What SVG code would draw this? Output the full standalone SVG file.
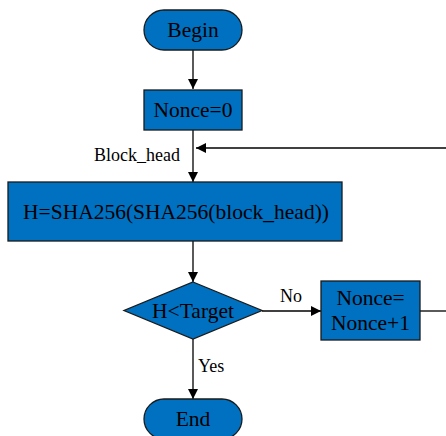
<svg xmlns="http://www.w3.org/2000/svg" width="446" height="436" viewBox="0 0 446 436">
  <style>
    .box { fill: #0070C0; stroke: #1a1a1a; stroke-width: 1.3; }
    .t { font-family: "Liberation Serif", "Times New Roman", serif; font-size: 21.5px; fill: #000; text-anchor: middle; }
    .lbl { font-family: "Liberation Serif", "Times New Roman", serif; font-size: 18px; fill: #000; }
    .ln { stroke: #000; stroke-width: 1.3; fill: none; }
  </style>
  <defs>
    <marker id="arr" viewBox="0 0 10 10" refX="10" refY="5" markerWidth="10" markerHeight="10" markerUnits="userSpaceOnUse" orient="auto">
      <path d="M0,0 L10,5 L0,10 Z" fill="#000"/>
    </marker>
  </defs>
  <rect width="446" height="436" fill="#fff"/>

  <g id="connectors">
    <line class="ln" x1="193" y1="50" x2="193" y2="89" marker-end="url(#arr)"/>
    <line class="ln" x1="193" y1="130" x2="193" y2="182" marker-end="url(#arr)"/>
    <line class="ln" x1="446" y1="148" x2="196" y2="148" marker-end="url(#arr)"/>
    <line class="ln" x1="193" y1="241" x2="193" y2="282" marker-end="url(#arr)"/>
    <line class="ln" x1="262" y1="311" x2="321" y2="311" marker-end="url(#arr)"/>
    <line class="ln" x1="420" y1="311" x2="446" y2="311"/>
    <line class="ln" x1="193" y1="339" x2="193" y2="399" marker-end="url(#arr)"/>
    <text class="lbl" x="94" y="161">Block_head</text>
    <text class="lbl" x="280" y="302">No</text>
    <text class="lbl" x="198" y="372">Yes</text>
  </g>

  <g id="begin">
    <rect class="box" x="144" y="10" width="98" height="40" rx="20"/>
    <text class="t" x="193" y="37">Begin</text>
  </g>
  <g id="nonce-init">
    <rect class="box" x="144" y="90" width="98" height="40"/>
    <text class="t" x="193" y="117">Nonce=0</text>
  </g>
  <g id="hash">
    <rect class="box" x="8" y="182" width="334" height="59"/>
    <text class="t" x="176" y="219">H=SHA256(SHA256(block_head))</text>
  </g>
  <g id="check">
    <polygon class="box" points="193,282 262,310.5 193,339 124,310.5"/>
    <text class="t" x="193" y="318">H&lt;Target</text>
  </g>
  <g id="nonce-inc">
    <rect class="box" x="321" y="281" width="99" height="59"/>
    <text class="t" x="370.5" y="305">Nonce=</text>
    <text class="t" x="370.5" y="330">Nonce+1</text>
  </g>
  <g id="end">
    <rect class="box" x="144" y="399" width="98" height="40" rx="20"/>
    <text class="t" x="193" y="426">End</text>
  </g>
</svg>
